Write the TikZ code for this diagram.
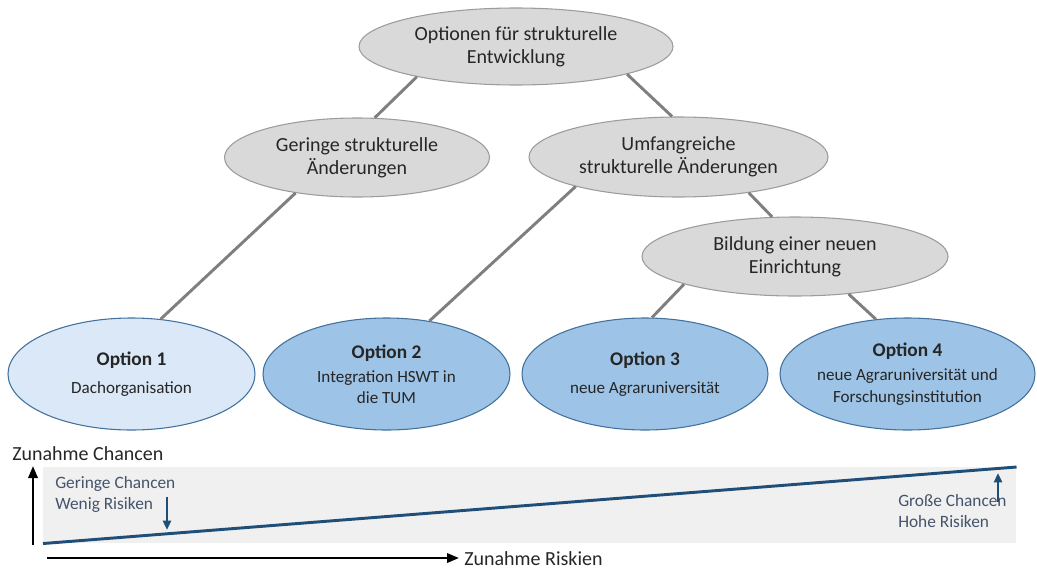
\documentclass[tikz,border=0pt]{standalone}
\usepackage{fontspec}
\setmainfont{Carlito}
\usetikzlibrary{shapes.geometric,arrows.meta}

\begin{document}
\begin{tikzpicture}[x=0.75pt,y=-0.75pt]
  \definecolor{nodegray}{HTML}{D9D9D9}
  \definecolor{edgegray}{HTML}{9C9C9C}
  \definecolor{branchgray}{HTML}{7F7F7F}
  \definecolor{lightblue}{HTML}{DAE8F7}
  \definecolor{midblue}{HTML}{9DC3E6}
  \definecolor{borderblue}{HTML}{41719C}
  \definecolor{darkblue}{HTML}{1F4E79}
  \definecolor{slate}{HTML}{44546A}
  \definecolor{bandgray}{HTML}{F0F0F0}
  \tikzstyle{every node}=[font=\fontsize{15}{17.5}\selectfont, text=black!85]
  \tikzstyle{gray concept}=[ellipse, draw=edgegray, fill=nodegray, line width=0.8pt, inner sep=0pt, align=center]
  \tikzstyle{option}=[ellipse, draw=borderblue, fill=midblue, line width=0.8pt, inner sep=0pt, align=center, minimum height=84pt, font=\fontsize{12.8}{16}\selectfont]
  \tikzstyle{branch}=[draw=branchgray, line width=2.2pt]
  \tikzstyle{note}=[align=left, text=slate, inner sep=0pt, font=\fontsize{13}{15.8}\selectfont]
  \tikzstyle{axis}=[-{Triangle[length=9pt,width=7pt]}, line width=1.8pt]
  \tikzstyle{hint}=[-{Triangle[length=7pt,width=6pt]}, draw=darkblue, line width=2pt]

  \useasboundingbox (0,0) rectangle (1037,571);

  % tree
  \node[gray concept, minimum width=235.5pt, minimum height=57.75pt] (root) at (516,46.5) {Optionen für strukturelle\\Entwicklung};
  \node[gray concept, minimum width=198.75pt, minimum height=59.25pt] (small) at (357,157.5) {Geringe strukturelle\\Änderungen};
  \node[gray concept, minimum width=224.25pt, minimum height=60pt] (large) at (678.5,157) {Umfangreiche\\strukturelle Änderungen};
  \node[gray concept, minimum width=229.5pt, minimum height=59.25pt] (newinst) at (795,256.5) {Bildung einer neuen\\Einrichtung};

  \node[option, fill=lightblue, minimum width=185.25pt] (opt1) at (131.5,374) {{\fontsize{14.5}{18}\selectfont\bf Option 1}\\[5pt]Dachorganisation};
  \node[option, minimum width=185.25pt] (opt2) at (386.5,374) {{\fontsize{14.5}{18}\selectfont\bf Option 2}\\[2pt]Integration HSWT in\\die TUM};
  \node[option, minimum width=184.5pt] (opt3) at (645,374) {{\fontsize{14.5}{18}\selectfont\bf Option 3}\\[5pt]neue Agraruniversität};
  \node[option, minimum width=191.25pt, inner xsep=-3pt] (opt4) at (907.5,374) {{\fontsize{14.5}{18}\selectfont\bf Option 4}\\[2pt]neue Agraruniversität und\\Forschungsinstitution};

  \path[branch] (root.197) -- (small.66);
  \path[branch] (root.346) -- (large.99);
  \path[branch] (small.210) -- (opt1.62);
  \path[branch] (large.196) -- (opt2.51);
  \path[branch] (large.333) -- (newinst.120);
  \path[branch] (newinst.194) -- (opt3.83);
  \path[branch] (newinst.325) -- (opt4.120);

  % risk/chance scale
  \node[fill=bandgray, inner sep=0pt, minimum width=729.75pt, minimum height=57pt, anchor=north west] (band) at (43,467) {};
  \draw[darkblue, line width=2.2pt] (band.south west) -- (band.north east);

  \node[anchor=west, inner sep=0pt] (ylabel) at (12,454) {Zunahme Chancen};
  \coordinate (yfoot) at (33,545);
  \coordinate (ytip) at (33,466);
  \draw[axis] (yfoot) -- (ytip);

  \coordinate (xfoot) at (47,558);
  \coordinate (xtip) at (459,558);
  \draw[axis] (xfoot) -- (xtip);
  \node[anchor=west, inner sep=0pt] (xlabel) at (464,559) {Zunahme Riskien};

  \node[note, anchor=north west] (lownote) at (55,476) {Geringe Chancen\\Wenig Risiken};
  \node[note, anchor=north west] (highnote) at (898,494) {Große Chancen\\Hohe Risiken};
  \coordinate (lowfoot) at (167,497);
  \coordinate (lowtip) at (167,530);
  \draw[hint] (lowfoot) -- (lowtip);
  \coordinate (highfoot) at (998,502);
  \coordinate (hightip) at (998,473);
  \draw[hint] (highfoot) -- (hightip);
\end{tikzpicture}
\end{document}
